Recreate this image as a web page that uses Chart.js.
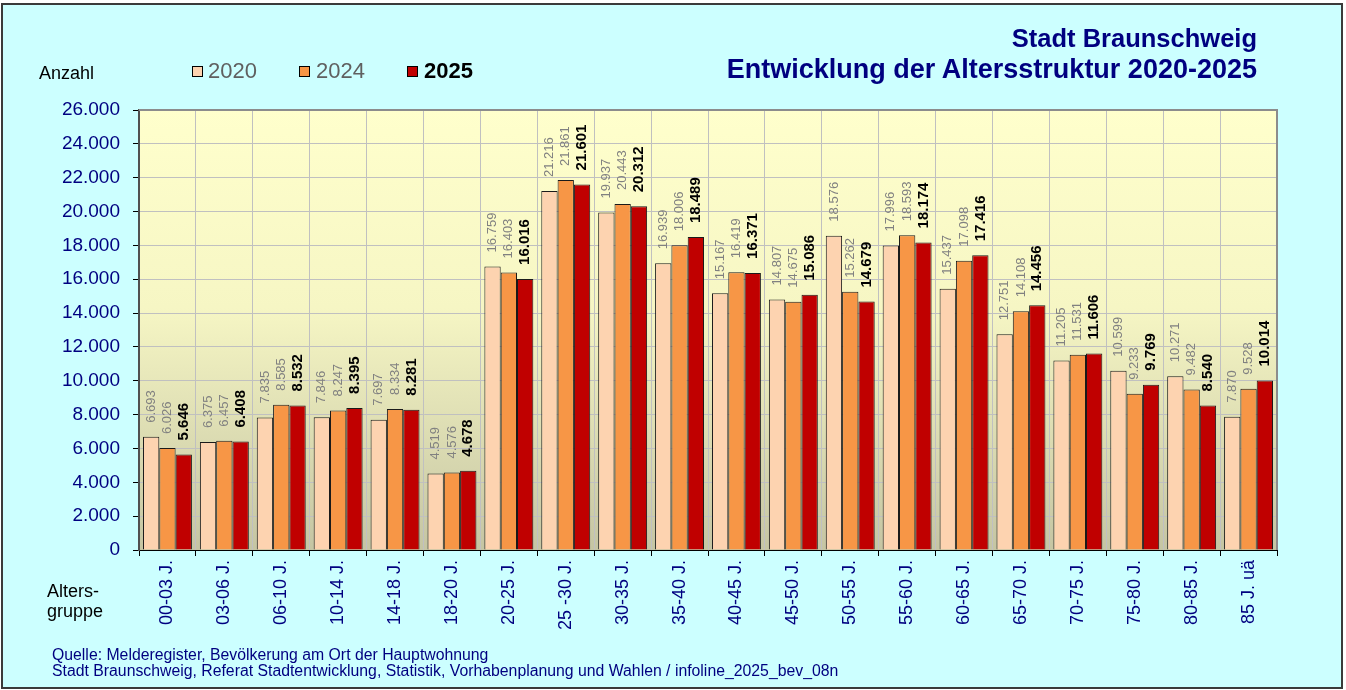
<!DOCTYPE html>
<html lang="de">
<head>
<meta charset="utf-8">
<title>Stadt Braunschweig - Entwicklung der Altersstruktur 2020-2025</title>
<script src="https://cdn.jsdelivr.net/npm/chart.js@4.4.1/dist/chart.umd.min.js"></script>
<style>
  body { margin: 0; background: #ffffff; font-family: "Liberation Sans", Arial, sans-serif; }
  #wrap { position: relative; width: 1346px; height: 690px; overflow: hidden; }
  #rahmen { position: absolute; left: 1px; top: 3px; width: 1342px; height: 686px; box-sizing: border-box;
            border: 2px solid #3a3a3a; background: #ccffff; }
  #myChart { position: absolute; left: 0; top: 0; }
  .txt { position: absolute; white-space: nowrap; }
  #titel { right: 89px; top: 23px; color: #000080; font-weight: bold; text-align: right; }
  #titel div:first-child { font-size: 25.5px; line-height: 31px; }
  #titel div:last-child { font-size: 27px; line-height: 31px; }
  #anzahl { left: 39px; top: 63px; font-size: 18px; line-height: 20px; color: #000; }
  .leg { position: absolute; top: 59px; font-size: 22px; line-height: 24px; color: #606060; }
  .box { position: absolute; top: 66px; width: 9px; height: 9px; border: 1px solid #000; }
  #gruppe { left: 47px; top: 581px; font-size: 18px; line-height: 20px; color: #000; }
  #quelle { left: 52px; top: 647px; font-size: 15.8px; line-height: 16px; color: #000080; }
</style>
</head>
<body>
<div id="wrap">
  <div id="rahmen"></div>
  <canvas id="myChart" width="1346" height="690"></canvas>

  <div id="titel" class="txt">
    <div>Stadt Braunschweig</div>
    <div>Entwicklung der Altersstruktur 2020-2025</div>
  </div>
  <div id="anzahl" class="txt">Anzahl</div>

  <div class="box" style="left:192px;background:#fdd3b0"></div>
  <div class="leg" style="left:208px">2020</div>
  <div class="box" style="left:299px;background:#f79646"></div>
  <div class="leg" style="left:316px">2024</div>
  <div class="box" style="left:407px;background:#c00000"></div>
  <div class="leg" style="left:424px;color:#000;font-weight:bold">2025</div>

  <div id="gruppe" class="txt">Alters-<br>gruppe</div>
  <div id="quelle" class="txt">Quelle: Melderegister, Bevölkerung am Ort der Hauptwohnung<br>Stadt Braunschweig, Referat Stadtentwicklung, Statistik, Vorhabenplanung und Wahlen / infoline_2025_bev_08n</div>
</div>

<script>
// Altersgruppen
const altersgruppen = ["00-03 J.", "03-06 J.", "06-10 J.", "10-14 J.", "14-18 J.", "18-20 J.",
  "20-25 J.", "25 -30 J.", "30-35 J.", "35-40 J.", "40-45 J.", "45-50 J.", "50-55 J.",
  "55-60 J.", "60-65 J.", "65-70 J.", "70-75 J.", "75-80 J.", "80-85 J.", "85 J. uä"];

// Einwohner je Jahr
const werte2020 = [6693, 6375, 7835, 7846, 7697, 4519, 16759, 21216, 19937, 16939,
  15167, 14807, 18576, 17996, 15437, 12751, 11205, 10599, 10271, 7870];
const werte2024 = [6026, 6457, 8585, 8247, 8334, 4576, 16403, 21861, 20443, 18006,
  16419, 14675, 15262, 18593, 17098, 14108, 11531, 9233, 9482, 9528];
const werte2025 = [5646, 6408, 8532, 8395, 8281, 4678, 16016, 21601, 20312, 18489,
  16371, 15086, 14679, 18174, 17416, 14456, 11606, 9769, 8540, 10014];

const jahre = ["2020", "2024", "2025"];
const farben = ["#fdd3b0", "#f79646", "#c00000"];

// Achse
const yMax = 26000;
const yStep = 2000;

const schrift = '"Liberation Sans", Arial, sans-serif';

const punkt = (v) => String(v).replace(/\B(?=(\d{3})+(?!\d))/g, ".");

// Hintergrund der Zeichenfläche mit Verlauf + Rahmen oben/rechts
const flaeche = {
  id: "flaeche",
  beforeDraw(chart) {
    const { ctx, chartArea: a } = chart;
    const grad = ctx.createLinearGradient(0, a.top, 0, a.bottom);
    grad.addColorStop(0, "#ffffcc");
    grad.addColorStop(0.45, "#f6f6c4");
    grad.addColorStop(1, "#c5c5a3");
    ctx.save();
    ctx.fillStyle = grad;
    ctx.fillRect(a.left, a.top, a.right - a.left, a.bottom - a.top);
    ctx.restore();
  },
  afterDraw(chart) {
    const { ctx, chartArea: a } = chart;
    ctx.save();
    ctx.strokeStyle = "#8c8c8c";
    ctx.lineWidth = 2;
    ctx.beginPath();
    ctx.moveTo(a.left, a.top);
    ctx.lineTo(a.right, a.top);
    ctx.lineTo(a.right, a.bottom);
    ctx.stroke();
    ctx.restore();
  }
};

// Werte senkrecht über den Säulen
const beschriftung = {
  id: "beschriftung",
  afterDatasetsDraw(chart) {
    const ctx = chart.ctx;
    ctx.save();
    chart.data.datasets.forEach((ds, i) => {
      const meta = chart.getDatasetMeta(i);
      const fett = i === 2;
      ctx.font = (fett ? "bold 15px " : "13px ") + schrift;
      ctx.fillStyle = fett ? "#000000" : "#808080";
      ctx.textAlign = "left";
      ctx.textBaseline = "middle";
      meta.data.forEach((bar, j) => {
        ctx.save();
        ctx.translate(bar.x, bar.y - 14);
        ctx.rotate(-Math.PI / 2);
        ctx.fillText(punkt(ds.data[j]), 0, 0);
        ctx.restore();
      });
    });
    ctx.restore();
  }
};

const ctx = document.getElementById("myChart").getContext("2d");
const myChart = new Chart(ctx, {
  type: "bar",
  data: {
    labels: altersgruppen,
    datasets: [werte2020, werte2024, werte2025].map((d, i) => ({
      label: jahre[i],
      data: d,
      backgroundColor: farben[i],
      borderColor: "#1a1a1a",
      borderWidth: 1,
      borderSkipped: "bottom",
      barPercentage: 1,
      categoryPercentage: 0.86
    }))
  },
  options: {
    responsive: false,
    animation: false,
    layout: { padding: { left: 0, top: 110, right: 69, bottom: 0 } },
    plugins: {
      legend: { display: false },
      tooltip: { enabled: false }
    },
    scales: {
      x: {
        afterFit: (s) => { s.height = 140; },
        grid: { color: "#c0c0c0", tickColor: "#000", tickLength: 6, offset: true },
        border: { color: "#000", width: 1 },
        ticks: {
          color: "#000080",
          font: { family: schrift, size: 18 },
          minRotation: 90,
          maxRotation: 90,
          padding: 4,
          autoSkip: false
        }
      },
      y: {
        min: 0,
        max: yMax,
        afterFit: (s) => { s.width = 139; },
        grid: { color: "#c0c0c0", tickColor: "#000", tickLength: 6 },
        border: { color: "#505050", width: 2 },
        ticks: {
          stepSize: yStep,
          color: "#000080",
          font: { family: schrift, size: 19 },
          padding: 13,
          callback: (v) => punkt(v)
        }
      }
    }
  },
  plugins: [flaeche, beschriftung]
});
</script>
</body>
</html>
